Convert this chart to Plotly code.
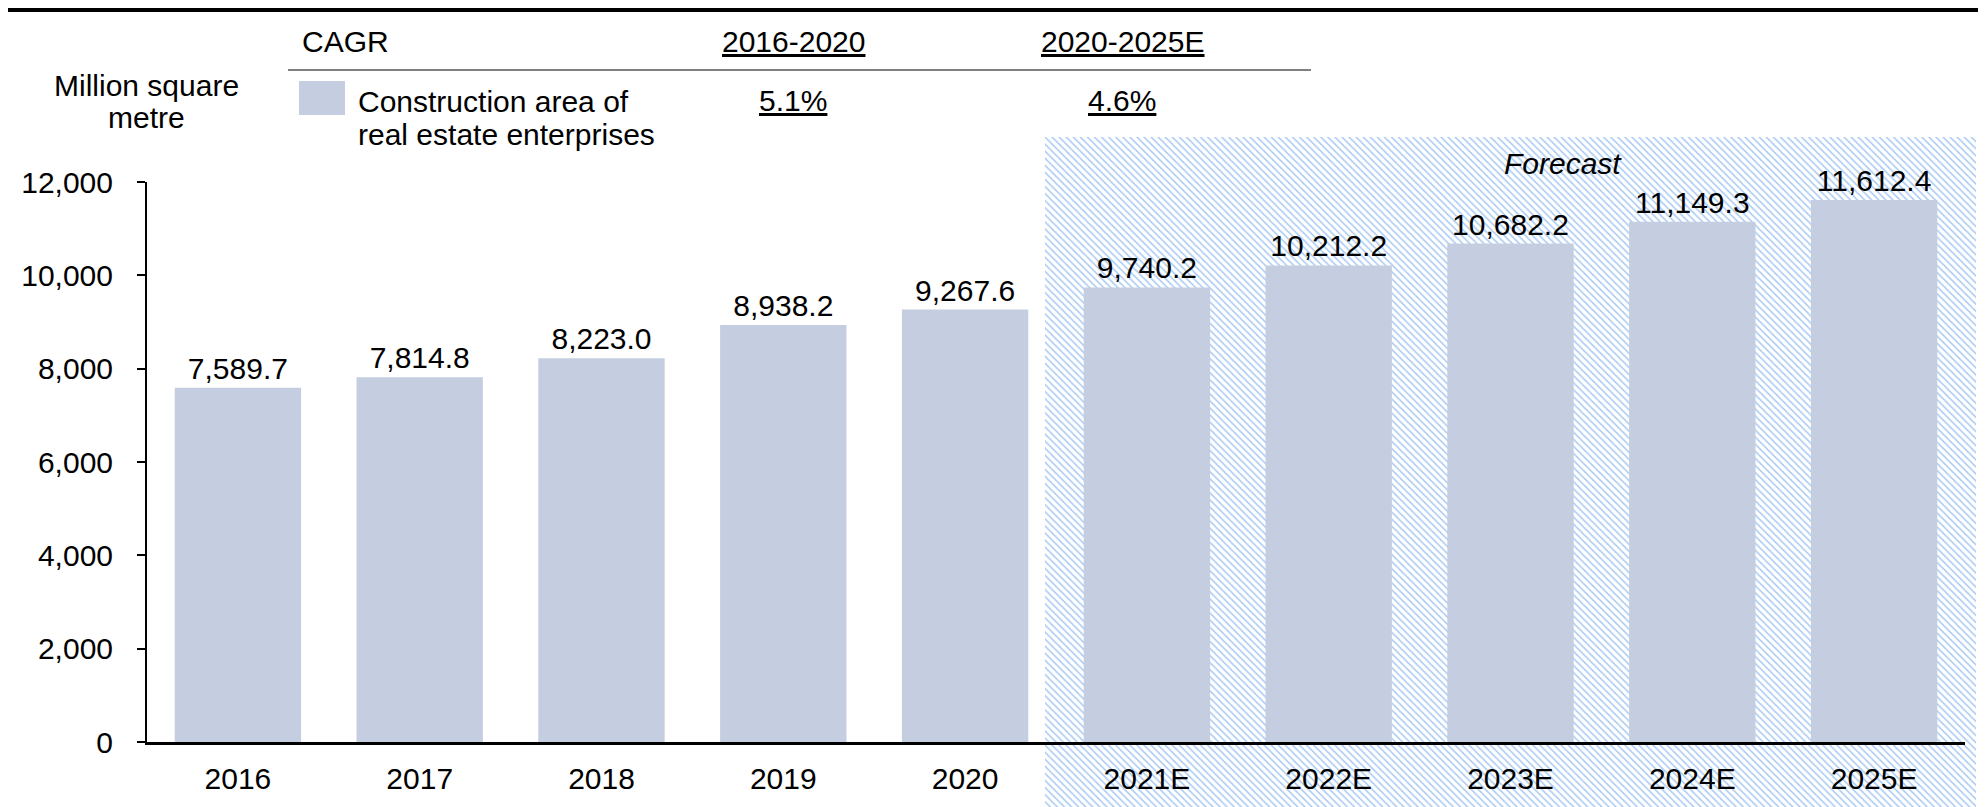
import plotly.graph_objects as go

# ---- data ----
years = ["2016", "2017", "2018", "2019", "2020", "2021E", "2022E", "2023E", "2024E", "2025E"]
area = [7589.7, 7814.8, 8223.0, 8938.2, 9267.6, 9740.2, 10212.2, 10682.2, 11149.3, 11612.4]
cagr_periods = ["2016-2020", "2020-2025E"]
cagr_values = ["5.1%", "4.6%"]
series_name = ["Construction area of", "real estate enterprises"]
y_ticks = [0, 2000, 4000, 6000, 8000, 10000, 12000]

W, H = 1986, 807
FONT = "Liberation Sans, Arial, sans-serif"
BAR = "#C4CEE0"
HATCH = "#A9CBF3"


def px(x):
    return x / W


def py(y):
    return 1 - y / H


fig = go.Figure()

# hatched "forecast" background (own subplot, drawn below the bars)
fig.add_trace(go.Scatter(
    x=[0, 1, 1, 0, 0], y=[0, 0, 1, 1, 0],
    xaxis="x", yaxis="y",
    mode="none", fill="toself", fillcolor="white",
    fillpattern=dict(shape="\\", fgcolor=HATCH, bgcolor="white", size=5, solidity=0.3),
    hoverinfo="skip", showlegend=False,
))

fig.add_trace(go.Bar(
    x=list(range(len(years))), y=area,
    xaxis="x2", yaxis="y2",
    marker=dict(color=BAR, line=dict(width=0)),
    width=0.695,
    text=area, texttemplate="%{y:,.1f}", textposition="outside",
    textfont=dict(size=30, color="black", family=FONT),
    constraintext="none", cliponaxis=False,
    showlegend=False,
))

fig.update_layout(
    width=W, height=H,
    template="none",
    margin=dict(l=0, r=0, t=0, b=0, pad=0),
    paper_bgcolor="white", plot_bgcolor="rgba(0,0,0,0)",
    font=dict(family=FONT, size=30, color="black"),
    xaxis=dict(domain=[px(1037), px(1968)], range=[0, 1], visible=False, fixedrange=True),
    yaxis=dict(domain=[0, py(129)], range=[0, 1], visible=False, fixedrange=True),
    xaxis2=dict(
        domain=[px(139), px(1957)], anchor="y2", range=[-0.5, 9.5],
        tickmode="array", tickvals=list(range(len(years))), ticktext=years,
        showline=True, linecolor="black", linewidth=3, ticks="",
        showgrid=False, zeroline=False, ticklabelstandoff=8,
        tickfont=dict(size=30), automargin=False,
    ),
    yaxis2=dict(
        domain=[py(734), py(174)], anchor="x2", range=[0, 12000],
        tickmode="array", tickvals=y_ticks, tickformat=",",
        showline=True, linecolor="black", linewidth=2,
        ticks="outside", ticklen=8, tickwidth=2, tickcolor="black",
        showgrid=False, zeroline=False, ticklabelstandoff=18,
        tickfont=dict(size=30), automargin=False,
    ),
)

shapes = [
    # top border
    dict(type="rect", xref="paper", yref="paper", x0=0, x1=1, y0=py(4), y1=1,
         fillcolor="black", line=dict(width=0)),
    # header rule
    dict(type="line", xref="paper", yref="paper", x0=px(280), x1=px(1303), y0=py(62), y1=py(62),
         line=dict(color="#808080", width=2)),
    # legend swatch
    dict(type="rect", xref="paper", yref="paper", x0=px(291), x1=px(337), y0=py(107), y1=py(73),
         fillcolor=BAR, line=dict(width=0)),
]
fig.update_layout(shapes=shapes)

ann = []


def note(text, x, y, xanchor="center", **kw):
    ann.append(dict(text=text, x=px(x), y=py(y), xref="paper", yref="paper",
                    xanchor=xanchor, yanchor="middle", showarrow=False,
                    font=dict(size=30, color="black", family=FONT), **kw))


note("CAGR", 292, 33, xanchor="left")
note("<u>%s</u>" % cagr_periods[0], 785, 33)
note("<u>%s</u>" % cagr_periods[1], 1114, 33)
note("<u>%s</u>" % cagr_values[0], 785, 92)
note("<u>%s</u>" % cagr_values[1], 1114, 92)
note(series_name[0], 348, 93, xanchor="left")
note(series_name[1], 348, 126, xanchor="left")
note("Million square", 138, 77)
note("metre", 138, 109)
note("<i>Forecast</i>", 1555, 155)
fig.update_layout(annotations=ann)

fig.write_html("out.html")
